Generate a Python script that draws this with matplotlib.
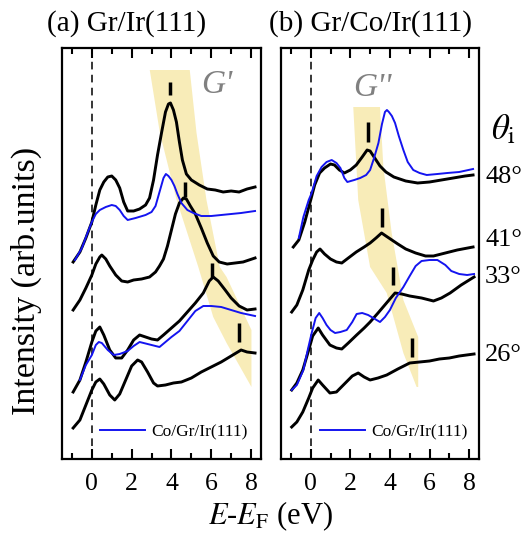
import matplotlib.pyplot as plt
from matplotlib.lines import Line2D

plt.rcParams['font.family'] = ['Liberation Serif', 'DejaVu Serif']
plt.rcParams['mathtext.fontset'] = 'stix'

# ---- panel (a) Gr/Ir(111) : energy (eV) and intensity (arb. units, offsets included)
a48_E = [-0.94, -0.6, -0.3, 0.0, 0.2, 0.4, 0.6, 0.8, 1.0, 1.2, 1.4, 1.6, 1.8, 2.1, 2.4, 2.7, 2.9, 3.1,
         3.3, 3.5, 3.7, 3.85, 3.95, 4.1, 4.25, 4.4, 4.55, 4.75, 5.0, 5.4, 5.8, 6.2, 6.6, 7.0, 7.4, 7.8, 8.2]
a48_I = [197, 207, 221, 237, 254, 269, 277, 282, 283, 279, 271, 257, 248, 248, 250, 254, 261, 279,
         304, 326, 347, 355, 356, 349, 337, 317, 299, 285, 279, 274, 270, 269, 267, 268, 267, 270, 272]

a48co_E = [-0.85, -0.5, -0.2, 0.0, 0.2, 0.4, 0.7, 1.0, 1.2, 1.4, 1.6, 1.8, 2.2, 2.7, 3.0, 3.2, 3.4, 3.6,
           3.72, 3.85, 4.0, 4.15, 4.3, 4.5, 4.8, 5.1, 5.5, 6.0, 6.5, 7.0, 7.5, 8.2]
a48co_I = [199, 211, 227, 237, 245, 249, 252, 254, 253, 249, 243, 239, 241, 244, 247, 253, 267, 281,
           285, 283, 279, 273, 265, 256, 249, 246, 243, 243, 244, 245, 246, 248]

a41_E = [-0.94, -0.6, -0.3, 0.0, 0.2, 0.4, 0.5, 0.7, 0.9, 1.2, 1.5, 1.8, 2.1, 2.5, 2.9, 3.2, 3.4, 3.6,
         3.8, 4.0, 4.2, 4.4, 4.6, 4.75, 4.95, 5.2, 5.5, 5.8, 6.1, 6.4, 6.8, 7.2, 7.6, 8.2]
a41_I = [149, 159, 171, 184, 195, 202, 204, 200, 193, 184, 178, 177, 179, 180, 182, 187, 193, 200,
         213, 229, 245, 256, 261, 260, 253, 245, 231, 216, 203, 197, 195, 196, 197, 201]

a33_E = [-0.94, -0.6, -0.3, 0.0, 0.2, 0.4, 0.6, 0.9, 1.2, 1.5, 1.8, 2.1, 2.4, 2.7, 3.0, 3.3, 3.6, 4.0,
         4.4, 4.8, 5.2, 5.6, 5.9, 6.1, 6.35, 6.7, 7.0, 7.4, 7.8, 8.2]
a33_I = [67, 79, 97, 117, 128, 132, 124, 109, 101, 101, 109, 119, 124, 122, 120, 119, 124, 131,
         138, 147, 156, 166, 178, 182, 178, 169, 161, 153, 149, 150]

a33co_E = [-0.6, -0.3, 0.0, 0.2, 0.35, 0.5, 0.8, 1.1, 1.4, 1.8, 2.1, 2.4, 2.8, 3.2, 3.4, 3.7, 4.0, 4.4,
           4.8, 5.2, 5.6, 6.0, 6.5, 7.0, 7.5, 8.2]
a33co_I = [79, 94, 104, 114, 117, 116, 109, 104, 105, 108, 113, 117, 115, 113, 112, 117, 122, 128,
           138, 148, 153, 153, 152, 149, 146, 143]

a26_E = [-0.94, -0.6, -0.3, 0.0, 0.2, 0.4, 0.6, 0.9, 1.15, 1.4, 1.7, 2.0, 2.3, 2.5, 2.8, 3.1, 3.3, 3.7,
         4.1, 4.5, 5.0, 5.5, 6.0, 6.5, 7.0, 7.5, 7.8, 8.2]
a26_I = [31, 39, 54, 69, 77, 80, 75, 64, 59, 65, 79, 93, 99, 97, 87, 76, 73, 74,
         76, 77, 81, 87, 92, 97, 103, 109, 107, 106]

# ---- panel (b) Gr/Co/Ir(111)
b48_E = [-0.88, -0.6, -0.3, 0.0, 0.2, 0.45, 0.7, 1.0, 1.2, 1.45, 1.7, 2.0, 2.3, 2.6, 2.85, 3.0, 3.2,
         3.5, 3.8, 4.2, 4.8, 5.4, 6.0, 6.6, 7.2, 7.8, 8.2]
b48_I = [212, 219, 237, 259, 274, 286, 291, 295, 294, 289, 286, 289, 294, 302, 309, 308, 302,
         293, 287, 282, 278, 276, 277, 279, 281, 283, 284]

b48co_E = [-0.6, -0.37, -0.1, 0.05, 0.3, 0.55, 0.8, 1.06, 1.3, 1.5, 1.7, 1.85, 2.2, 2.5, 2.8, 3.0,
           3.2, 3.42, 3.6, 3.75, 3.85, 3.95, 4.1, 4.26, 4.45, 4.68, 4.9, 5.18, 5.5, 5.86, 6.4, 6.9,
           7.5, 8.2]
b48co_I = [221, 242, 259, 266, 283, 292, 297, 299, 296, 291, 281, 277, 279, 281, 284, 289,
           301, 316, 335, 347, 349, 347, 343, 336, 323, 309, 297, 289, 286, 284, 285, 286,
           287, 290]

b41_E = [-0.96, -0.7, -0.4, -0.1, 0.1, 0.3, 0.47, 0.7, 1.0, 1.3, 1.57, 1.9, 2.3, 2.7, 3.0, 3.3, 3.58,
         3.8, 4.1, 4.4, 4.8, 5.3, 5.8, 6.2, 6.8, 7.4, 8.2]
b41_I = [147, 154, 169, 189, 199, 207, 210, 205, 200, 197, 196, 201, 207, 212, 216, 221, 226,
         223, 219, 215, 210, 206, 203, 203, 206, 209, 212]

b33_E = [-0.96, -0.7, -0.4, -0.1, 0.1, 0.38, 0.6, 0.97, 1.3, 1.57, 1.9, 2.32, 2.7, 3.0, 3.4, 3.7,
         4.0, 4.26, 4.6, 5.0, 5.6, 6.2, 6.6, 7.04, 7.6, 8.25]
b33_I = [69, 76, 89, 109, 123, 131, 124, 114, 111, 110, 116, 124, 131, 137, 146, 153,
         160, 166, 165, 163, 161, 158, 161, 166, 174, 182]

b33co_E = [-0.96, -0.7, -0.37, -0.15, 0.05, 0.25, 0.43, 0.6, 0.8, 1.0, 1.23, 1.5, 1.82, 2.1, 2.32,
           2.6, 2.9, 3.16, 3.5, 3.75, 4.0, 4.3, 4.68, 5.0, 5.3, 5.6, 6.0, 6.4, 6.8, 7.1, 7.5, 7.9, 8.25]
b33co_I = [69, 74, 89, 109, 126, 141, 146, 141, 134, 129, 126, 127, 129, 137, 145,
           146, 144, 141, 137, 142, 149, 161, 172, 183, 193, 198, 199, 199, 194, 188, 185, 184, 185]

b26_E = [-0.96, -0.7, -0.4, -0.1, 0.1, 0.38, 0.6, 0.97, 1.3, 1.7, 2.1, 2.4, 2.7, 3.0, 3.4, 3.84,
         4.4, 5.0, 5.5, 6.0, 6.5, 7.0, 7.5, 8.25]
b26_I = [32, 37, 47, 61, 71, 79, 74, 66, 67, 75, 83, 86, 82, 79, 81, 84,
         90, 96, 97, 98, 100, 101, 103, 105]

# peak markers: energy, lower and upper intensity
a_mark_E = [3.92, 4.7, 6.06, 7.4]
a_mark_lo = [364, 262, 181, 117]
a_mark_hi = [377, 277, 196, 136]
b_mark_E = [2.91, 3.58, 4.17, 5.1]
b_mark_lo = [317, 232, 174, 102]
b_mark_hi = [337, 251, 192, 121]

# dispersion bands (outline, energy / intensity)
a_band_E = [2.91, 3.42, 4.26, 5.35, 6.1, 6.77, 8.02, 8.02, 6.77, 6.43, 5.76, 5.26, 4.92]
a_band_I = [389, 326, 259, 192, 142, 116, 72, 129, 182, 192, 259, 326, 389]
b_band_E = [2.15, 2.4, 3.0, 3.84, 4.68, 5.35, 5.43, 5.43, 4.68, 4.09, 3.67, 3.5]
b_band_I = [352, 259, 192, 166, 106, 72, 72, 122, 159, 226, 292, 352]

angles = ['48°', '41°', '33°', '26°']
angle_y = [176.7, 240, 276.7, 355]  # pixel rows of labels
legend_label = 'Co/Gr/Ir(111)'

fig = plt.figure(figsize=(5.24, 5.38), dpi=100)
ax_a = fig.add_axes([62 / 524, 1 - 459 / 538, 199 / 524, 411 / 538])
ax_b = fig.add_axes([281 / 524, 1 - 459 / 538, 198 / 524, 411 / 538])

band_col = '#f8ecb8'
blk = dict(color='black', lw=2.1, zorder=3)
blu = dict(color='#1414f0', lw=1.4, zorder=4)

ax_a.fill(a_band_E, a_band_I, color=band_col, lw=0, zorder=0)
ax_a.plot(a48_E, a48_I, **blk)
ax_a.plot(a48co_E, a48co_I, **blu)
ax_a.plot(a41_E, a41_I, **blk)
ax_a.plot(a33_E, a33_I, **blk)
ax_a.plot(a33co_E, a33co_I, **blu)
ax_a.plot(a26_E, a26_I, **blk)
ax_a.vlines(a_mark_E, a_mark_lo, a_mark_hi, color='black', lw=2.5, zorder=5)

ax_b.fill(b_band_E, b_band_I, color=band_col, lw=0, zorder=0)
ax_b.plot(b48_E, b48_I, **blk)
ax_b.plot(b48co_E, b48co_I, **blu)
ax_b.plot(b41_E, b41_I, **blk)
ax_b.plot(b33_E, b33_I, **blk)
ax_b.plot(b33co_E, b33co_I, **blu)
ax_b.plot(b26_E, b26_I, **blk)
ax_b.vlines(b_mark_E, b_mark_lo, b_mark_hi, color='black', lw=2.5, zorder=5)

for ax in (ax_a, ax_b):
    ax.axvline(0, color='black', lw=1.1, ls=(0, (5, 3.5)), zorder=2)
    ax.set_xlim(-1.5, 8.5)
    ax.set_ylim(0, 411)
    ax.set_xticks([0, 2, 4, 6, 8])
    ax.set_xticks([-1, 1, 3, 5, 7], minor=True)
    ax.set_yticks([])
    ax.tick_params(axis='x', which='both', direction='in', top=True, labelsize=18.5, width=1.5, pad=10)
    ax.tick_params(axis='x', which='major', length=7)
    ax.tick_params(axis='x', which='minor', length=4)
    for s in ax.spines.values():
        s.set_linewidth(1.6)

ax_a.legend([Line2D([], [], **blu)], [legend_label], loc='center left', bbox_to_anchor=(0.19, 0.066),
            frameon=False, fontsize=12.5, handlelength=2.6, handletextpad=0.35, borderpad=0, borderaxespad=0)
ax_b.legend([Line2D([], [], **blu)], [legend_label], loc='center left', bbox_to_anchor=(0.197, 0.066),
            frameon=False, fontsize=12.5, handlelength=2.6, handletextpad=0.35, borderpad=0, borderaxespad=0)

ax_a.text(6.3, 374, "G'", color='#808080', fontsize=24, style='italic', ha='center', va='center')
ax_b.text(3.1, 371, "G''", color='#808080', fontsize=24, style='italic', ha='center', va='center')

fig.text(47 / 524, 1 - 24 / 538, '(a) Gr/Ir(111)', fontsize=21, ha='left', va='center')
fig.text(269 / 524, 1 - 24 / 538, '(b) Gr/Co/Ir(111)', fontsize=21, ha='left', va='center')
fig.text(26 / 524, 1 - 281 / 538, 'Intensity (arb.units)', fontsize=24.5, rotation=90, ha='center', va='center')
fig.text(270 / 524, 1 - 516 / 538, r'$E$-$E_{\rm F}$ (eV)', fontsize=22, ha='center', va='center')
fig.text(503 / 524, 1 - 130 / 538, r'$\theta_{\rm i}$', fontsize=25, ha='center', va='center')
for lab, yy in zip(angles, angle_y):
    fig.text(485 / 524, 1 - yy / 538, lab, fontsize=19, ha='left', va='center')

fig.savefig('out.png', dpi=100)
